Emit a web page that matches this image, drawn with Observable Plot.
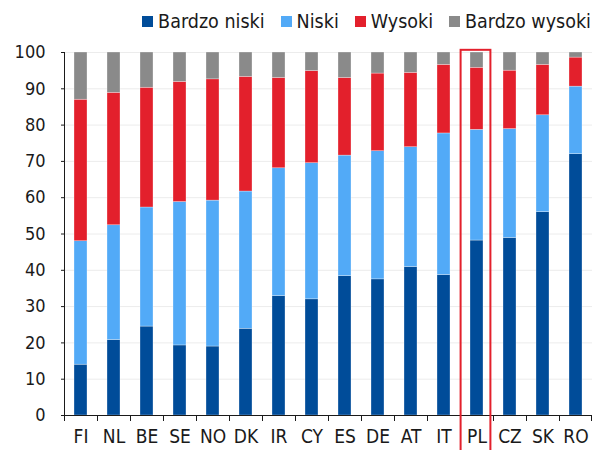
<!DOCTYPE html>
<html>
<head>
<meta charset="utf-8">
<script src="https://cdn.jsdelivr.net/npm/d3@7"></script>
<script src="https://cdn.jsdelivr.net/npm/@observablehq/plot@0.6"></script>
<style>
  html, body { margin: 0; padding: 0; background: #fff; }
  body { width: 594px; height: 450px; overflow: hidden; font-family: "DejaVu Sans Condensed", "DejaVu Sans", sans-serif; color: #1a1a1a; }
  #legend { height: 40px; display: flex; justify-content: flex-end; align-items: center; padding-right: 3px; padding-top: 3px; box-sizing: border-box; font-size: 19.5px; }
  #legend .item { display: flex; align-items: center; margin-left: 16px; }
  #legend .sw { width: 11px; height: 11px; margin-right: 5px; }
</style>
</head>
<body>
<div id="legend"></div>
<div id="chart"></div>
<script>
const countries = ["FI","NL","BE","SE","NO","DK","IR","CY","ES","DE","AT","IT","PL","CZ","SK","RO"];
const seriesNames = ["Bardzo niski","Niski","Wysoki","Bardzo wysoki"];
const seriesColors = ["#004c99","#52aaf7","#e3202c","#8a8a8a"];
const bardzoNiski   = [14.0,20.8,24.5,19.3,19.0,23.9,32.9,32.0,38.4,37.5,40.9,38.7,48.2,48.9,56.0,72.0];
const niski         = [34.0,31.6,32.8,39.5,40.2,37.8,35.2,37.5,33.2,35.3,33.0,39.0,30.5,30.0,26.7,18.6];
const wysoki        = [39.0,36.5,33.0,33.1,33.4,31.6,24.9,25.4,21.4,21.4,20.5,18.9,17.1,16.1,13.9, 8.0];
const bardzoWysoki  = [13.0,11.1, 9.7, 8.1, 7.4, 6.7, 7.0, 5.1, 7.0, 5.8, 5.6, 3.4, 4.2, 5.0, 3.4, 1.4];
const yTicks = [0,10,20,30,40,50,60,70,80,90,100];
const highlight = ["PL"];

const seriesValues = [bardzoNiski, niski, wysoki, bardzoWysoki];
const data = [];
countries.forEach((c, i) => {
  seriesNames.forEach((s, j) => data.push({country: c, series: s, value: seriesValues[j][i]}));
});

// legend
const leg = document.getElementById("legend");
seriesNames.forEach((s, j) => {
  const it = document.createElement("div");
  it.className = "item";
  const sw = document.createElement("div");
  sw.className = "sw";
  sw.style.background = seriesColors[j];
  const tx = document.createElement("span");
  tx.textContent = s;
  it.appendChild(sw); it.appendChild(tx);
  leg.appendChild(it);
});

const W = 594, H = 410, mL = 64, mR = 2, mT = 12, mB = 35;
const step = (W - mL - mR) / countries.length;

const chart = Plot.plot({
  width: W, height: H,
  marginLeft: mL, marginRight: mR, marginTop: mT, marginBottom: mB,
  style: {fontFamily: '"DejaVu Sans Condensed", "DejaVu Sans", sans-serif', color: "#1a1a1a", background: "white", overflow: "visible"},
  x: {domain: countries, padding: 0.6, paddingOuter: 0.3, label: null},
  y: {domain: [0, 100], label: null},
  color: {domain: seriesNames, range: seriesColors},
  marks: [
    Plot.gridY(yTicks, {stroke: "#ececec", strokeOpacity: 1}),
    Plot.barY(data, {x: "country", y: "value", fill: "series", order: seriesNames, stroke: "#fff", strokeWidth: 0.5, strokeOpacity: 0.6}),
    Plot.ruleY([0], {stroke: "#1a1a1a", strokeWidth: 1}),
    Plot.ruleX([countries[0]], {y1: 0, y2: 100, dx: -step / 2, stroke: "#1a1a1a", strokeWidth: 1}),
    Plot.ruleX(countries, {y1: 0, y2: -1.65, dx: -step / 2, stroke: "#1a1a1a", clip: false}),
    Plot.ruleX([countries[countries.length - 1]], {y1: 0, y2: -1.65, dx: step / 2 - 1, stroke: "#1a1a1a", clip: false}),
    Plot.axisY(yTicks, {tickSize: 3, tickPadding: 16, fontSize: 18, label: null}),
    Plot.axisX({tickSize: 0, tickPadding: 14, fontSize: 19, label: null}),
    Plot.barY(highlight.map(c => ({country: c})), {x: "country", y1: -12, y2: 100.6, fill: "none", stroke: "#e3202c", strokeWidth: 2, insetLeft: -(step * 0.3 - 0.5), insetRight: -(step * 0.3 - 2.5), clip: false})
  ]
});
document.getElementById("chart").appendChild(chart);
</script>
</body>
</html>
